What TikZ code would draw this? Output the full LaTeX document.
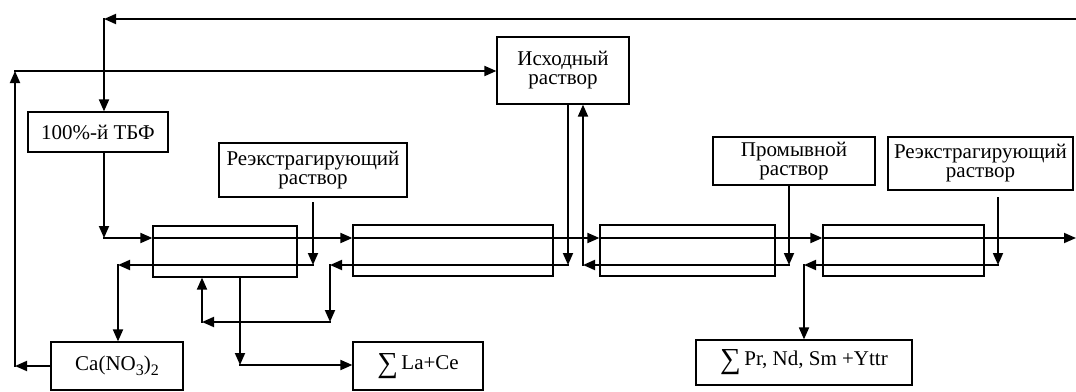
\documentclass[tikz,border=0pt]{standalone}
\usepackage{fontspec}
\setmainfont{Liberation Serif}
\usetikzlibrary{arrows.meta}
\newcommand{\lowsub}[1]{\raisebox{-5pt}{\fontsize{16}{16}\selectfont #1}}
\newcommand{\bigsum}{\raisebox{-3pt}{\fontsize{29}{29}\selectfont ∑}}
\begin{document}
\begin{tikzpicture}[x=1pt,y=-1pt,
  box/.style={draw, line width=1.2pt, inner sep=0pt, align=center, font=\fontsize{21}{19}\selectfont},
  flow/.style={line width=1.8pt, line cap=rect, -{Triangle[length=12pt,width=10pt]}},
  plain/.style={line width=1.8pt, line cap=rect}]
\useasboundingbox (0,0) rectangle (1076,391);
% boxes
\node[box, minimum width=140pt, minimum height=40pt] (tbf) at (98,132) {100\%-й ТБФ};
\node[box, minimum width=188pt, minimum height=54pt] (re1) at (313,170) {Реэкстрагирующий\\раствор};
\node[box, minimum width=132pt, minimum height=67pt] (isx) at (563,70.5) {Исходный\\раствор};
\node[box, minimum width=162pt, minimum height=48pt] (prom) at (794,161) {Промывной\\раствор};
\node[box, minimum width=185pt, minimum height=53pt] (re2) at (980.5,163.5) {Реэкстрагирующий\\раствор};
\node[box, minimum width=144pt, minimum height=51pt] (ex1) at (225,251.5) {};
\node[box, minimum width=200pt, minimum height=51pt] (ex2) at (453,250.5) {};
\node[box, minimum width=175pt, minimum height=51pt] (ex3) at (687.5,250.5) {};
\node[box, minimum width=161pt, minimum height=51pt] (ex4) at (903.5,250.5) {};
\node[box, minimum width=132pt, minimum height=48pt] (ca) at (117,366) {Ca(NO\lowsub{3})\lowsub{2}};
\node[box, minimum width=130pt, minimum height=48pt] (lace) at (418,366) {\bigsum\,La+Ce};
\node[box, minimum width=216pt, minimum height=45pt] (prs) at (804,362.5) {\bigsum\,Pr, Nd, Sm +Yttr};
% junction coordinates
\coordinate (topR) at (1076,19);
\coordinate (topL) at (104,19);
\coordinate (m0) at (104,238);
\coordinate (mEnd) at (1076,238);
\coordinate (lw) at (15,71);
\coordinate (lb) at (15,366);
\coordinate (r1) at (313,265);
\coordinate (l1) at (118,265);
\coordinate (a2) at (568,265);
\coordinate (l2) at (330,265);
\coordinate (d2) at (330,322);
\coordinate (e2) at (202,322);
\coordinate (b3) at (583,265);
\coordinate (p3) at (789,265);
\coordinate (r4) at (998,265);
\coordinate (l4) at (804,265);
\coordinate (s1) at (240,365);
% top recycle to TBF
\draw[flow] (topR) -- (topL);
\draw[flow] (topL) -- (topL |- tbf.north);
% TBF into cascade
\draw[flow] (tbf.south -| m0) -- (m0);
\draw[flow] (m0) -- (m0 -| ex1.west);
\draw[flow] (m0 -| ex1.west) -- (m0 -| ex2.west);
\draw[flow] (m0 -| ex2.west) -- (m0 -| ex3.west);
\draw[flow] (m0 -| ex3.west) -- (m0 -| ex4.west);
\draw[flow] (m0 -| ex4.west) -- (mEnd);
% stage 1 strip
\draw[flow] (re1.south -| r1) ++(0,5) -- (r1);
\draw[flow] (r1) -- (l1);
\draw[flow] (l1) -- (l1 |- ca.north);
% feed from Исходный and stage 2 return
\draw[flow] (isx.south -| a2) -- (a2);
\draw[flow] (a2) -- (l2);
\draw[flow] (l2) -- (d2);
\draw[flow] (d2) -- (e2);
\draw[flow] (e2) -- (e2 |- ex1.south);
% stage 3 scrub back to Исходный
\draw[flow] (prom.south -| p3) -- (p3);
\draw[flow] (p3) -- (b3);
\draw[flow] (b3) -- (b3 |- isx.south);
% stage 4 strip
\draw[flow] (re2.south -| r4) ++(0,7) -- (r4);
\draw[flow] (r4) -- (l4);
\draw[flow] (l4) -- (l4 |- prs.north);
% La+Ce product
\draw[flow] (ex1.south -| s1) -- (s1);
\draw[flow] (s1) -- (lace.west |- s1);
% Ca(NO3)2 recycle to feed
\draw[flow] (ca.west) -- (lb);
\draw[flow] (lb) -- (lw);
\draw[flow] (lw) -- (isx.west |- lw);
\end{tikzpicture}
\end{document}
